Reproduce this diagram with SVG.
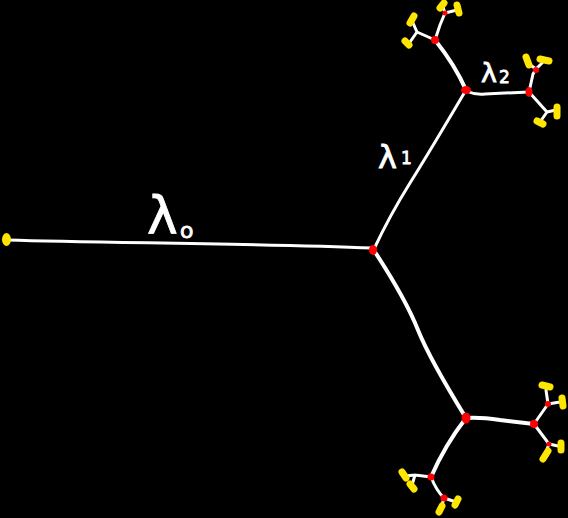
<svg xmlns="http://www.w3.org/2000/svg" width="568" height="518" viewBox="0 0 568 518">
<style>
.e{fill:none;stroke:#fff;stroke-linecap:round;stroke-linejoin:round;stroke-width:3}
.t{stroke-width:4}
.r{fill:#f00}
.y{fill:none;stroke:#ffe600;stroke-width:7;stroke-linecap:round;stroke-linejoin:round}
.lab{fill:#fff;stroke:#fff;stroke-width:0.8;font-family:"DejaVu Sans",sans-serif}
</style>
<rect width="568" height="518" fill="#000"/>
<g id="connectors">
<path class="e" d="M8,240 C100,243 250,243 373,248"/>
<path class="e" d="M374,249 Q390,215 410,183 T466,90"/>
<path class="e t" d="M375,252 C390,275 408,305 418,330 C428,355 450,392 466,418"/>
<path class="e t" d="M466,90 Q455,65 435,40"/>
<path class="e" d="M466,91 Q475,95 485,94 L529,92"/>
<path class="e" d="M435,40 L417,32 L413,23 M417,32 L410,42"/>
<path class="e" d="M435,40 L440,25 L445,13 L457,10 M445,13 L443,7"/>
<path class="e" d="M529,92 L533,74 L536,69 L529,64 M536,69 L543,62"/>
<path class="e" d="M529,92 L547,112 L556,110 M547,112 L540,122"/>
<path class="e t" d="M466,418 Q480,417 500,420 L534,424"/>
<path class="e" d="M534,424 L548,404 L546,390 M548,404 L560,402"/>
<path class="e" d="M534,424 L549,444 L558,446 M549,444 L546,452"/>
<path class="e t" d="M466,418 Q445,445 431,477"/>
<path class="e" d="M431,477 L415,475 L405,476 M415,475 L412,485"/>
<path class="e" d="M431,477 Q436,490 444,498 L456,502 M444,498 L442,505"/>
</g>
<g id="leaf0"><ellipse cx="6.5" cy="239.5" rx="4.5" ry="6.5" fill="#ffe600"/></g>
<g id="root"><ellipse class="r" cx="373" cy="250" rx="4" ry="5"/></g>
<g id="nA"><ellipse class="r" cx="466" cy="90" rx="5" ry="4"/></g>
<g id="nA1"><ellipse class="r" cx="435" cy="40" rx="4" ry="4"/></g>
<g id="nA1a"><path class="y" d="M414,16 L410,23 M405,41 L409,45"/></g>
<g id="nA1b"><circle class="r" cx="445" cy="13" r="2.5"/><path class="y" d="M444,3 L440,8 M457,5 L459,13"/></g>
<g id="nA2"><ellipse class="r" cx="529" cy="92" rx="3.5" ry="5"/></g>
<g id="nA2a"><circle class="r" cx="536" cy="70" r="3"/><path class="y" d="M526,57 L529,65 M540,59 L549,61"/></g>
<g id="nA2b"><path class="y" d="M557,107 L557,116 M537,121 L543,124"/></g>
<g id="nB"><ellipse class="r" cx="466" cy="418" rx="4.5" ry="5.5"/></g>
<g id="nB1"><circle class="r" cx="534" cy="424" r="4"/></g>
<g id="nB1a"><circle class="r" cx="548" cy="404" r="3"/><path class="y" d="M542,385 L550,387 M562,398 L563,406"/></g>
<g id="nB1b"><circle class="r" cx="549" cy="444" r="2.5"/><path class="y" d="M561,443 L561,450 M548,451 L543,459"/></g>
<g id="nB2"><circle class="r" cx="431" cy="477" r="3.5"/></g>
<g id="nB2a"><path class="y" d="M402,472 L406,478 M410,484 L414,489"/></g>
<g id="nB2b"><circle class="r" cx="444" cy="498" r="3.5"/><path class="y" d="M458,499 L455,505 M442,506 L439,512"/></g>
<g id="labels">
<text class="lab" x="147" y="233" font-size="52">λ</text>
<text class="lab" x="180" y="238" font-size="22">o</text>
<text class="lab" x="378" y="168" font-size="32">λ</text>
<text class="lab" x="401" y="164" font-size="17">1</text>
<text class="lab" x="481" y="82" font-size="27">λ</text>
<text class="lab" x="499" y="83" font-size="17">2</text>
</g>
</svg>
